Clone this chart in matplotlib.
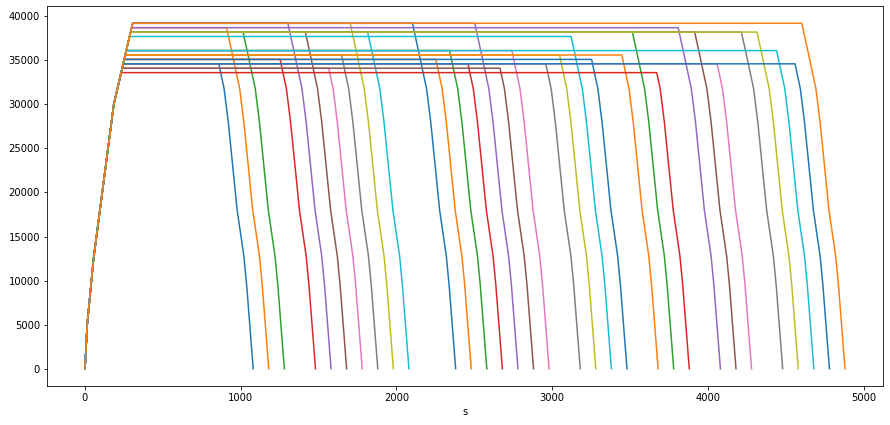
import matplotlib
matplotlib.use("Agg")
import matplotlib.pyplot as plt

# Shared climb profile (time since departure [s], altitude), incl. each cruise level
climb_alt = [0, 5000, 12500, 30000, 33600, 34100, 34600, 35100, 35600, 36100, 37700, 38200, 38700, 39200]
climb_t = [0, 14, 55, 185, 232, 239, 245, 252, 258, 265, 286, 293, 299, 306]

# Shared descent profile (seconds before landing, altitude), incl. each cruise level
desc_alt = [0, 9500, 12800, 18000, 28000, 31800, 33600, 34100, 34600, 35100, 35600, 36100, 37700, 38200, 38700, 39200]
desc_dt = [0, 42, 60, 103, 160, 187, 209, 215, 221, 227, 233, 239, 259, 265, 271, 277]

# Per-flight cruise altitude and landing time
cruise_alt = [34600, 38700, 38200, 35100, 39200, 38200, 34100, 35600, 39200, 38200,
              39200, 35100, 36100, 34600, 39200, 34100, 36100, 34600, 35600, 37700,
              35100, 35600, 38200, 33600, 38700, 38200, 34600, 38200, 38200, 36100,
              34600, 39200]
land_time = [1080, 1180, 1280, 1480, 1580, 1680, 1780, 1880, 1980, 2080,
             2380, 2480, 2580, 2680, 2780, 2880, 2980, 3180, 3280, 3380,
             3480, 3680, 3780, 3880, 4080, 4180, 4280, 4480, 4580, 4680,
             4780, 4880]

fig = plt.figure(figsize=(890 / 72, 425 / 72), dpi=72)
ax = fig.add_axes([47 / 890, (425 - 386) / 425, 836 / 890, 380 / 425])

for A, T in zip(cruise_alt, land_time):
    xs, ys = [], []
    for t, a in zip(climb_t, climb_alt):
        if a <= A:
            xs.append(t)
            ys.append(a)
    for dt, a in sorted(zip(desc_dt, desc_alt), key=lambda p: -p[1]):
        if a <= A:
            xs.append(T - dt)
            ys.append(a)
    ax.plot(xs, ys)

ax.set_xlabel("s")
fig.savefig("out.png", dpi=72)
